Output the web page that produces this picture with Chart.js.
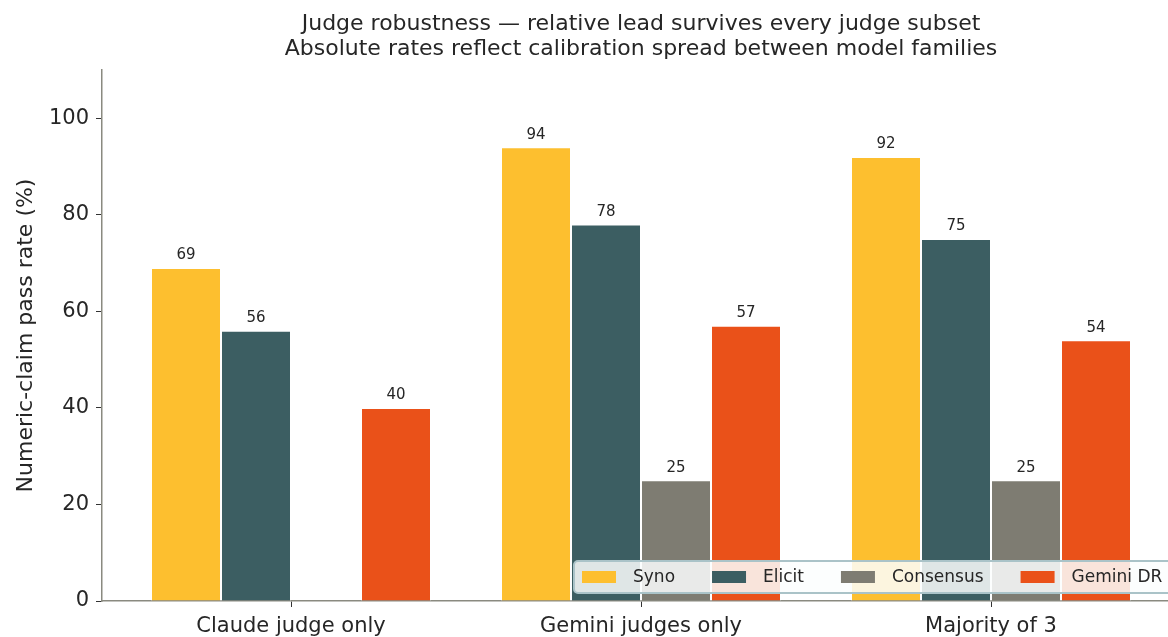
<!DOCTYPE html>
<html>
<head>
<meta charset="utf-8">
<script src="https://cdn.jsdelivr.net/npm/chart.js@4.4.1/dist/chart.umd.min.js"></script>
<style>
  html, body { margin: 0; padding: 0; background: #ffffff; overflow: hidden; width: 1168px; height: 637px; }
  canvas { display: block; }
</style>
</head>
<body>
<canvas id="c" width="1200" height="637"></canvas>
<script>
const TITLE_LINES = [
  'Judge robustness \u2014 relative lead survives every judge subset',
  'Absolute rates reflect calibration spread between model families'
];
const Y_LABEL = 'Numeric-claim pass rate (%)';
const categories = ['Claude judge only', 'Gemini judges only', 'Majority of 3'];
const seriesNames = ['Syno', 'Elicit', 'Consensus', 'Gemini DR'];
const synoValues = [69, 94, 92];
const elicitValues = [56, 78, 75];
const consensusValues = [null, 25, 25];
const geminiDrValues = [40, 57, 54];
const yTicks = [0, 20, 40, 60, 80, 100];
const colors = ['#fdbf2f', '#3c5e62', '#7e7c72', '#ea5119'];

const FONT = "'DejaVu Sans', sans-serif";
const allValues = [synoValues, elicitValues, consensusValues, geminiDrValues];

const datasets = allValues.map((vals, k) => ({
  label: seriesNames[k],
  data: vals.map((v, i) => ({ x: i, y: v })),
  backgroundColor: colors[k],
  borderColor: '#ffffff',
  borderWidth: 1,
  borderSkipped: 'bottom',
  categoryPercentage: 0.8,
  barPercentage: 1.0
}));

const titlePlugin = {
  id: 'titlePlugin',
  afterDraw(chart) {
    const ctx = chart.ctx;
    const ca = chart.chartArea;
    const cx = (ca.left + ca.right) / 2;
    ctx.save();
    ctx.fillStyle = '#262626';
    ctx.font = '22px ' + FONT;
    ctx.textAlign = 'center';
    ctx.textBaseline = 'middle';
    TITLE_LINES.forEach((t, i) => ctx.fillText(t, cx, 24 + i * 25));
    ctx.restore();
  }
};

const valueLabels = {
  id: 'valueLabels',
  afterDatasetsDraw(chart) {
    const ctx = chart.ctx;
    ctx.save();
    ctx.fillStyle = '#262626';
    ctx.font = '15px ' + FONT;
    ctx.textAlign = 'center';
    ctx.textBaseline = 'bottom';
    chart.data.datasets.forEach((ds, di) => {
      const meta = chart.getDatasetMeta(di);
      meta.data.forEach((bar, i) => {
        const v = ds.data[i].y;
        if (v === null || v === undefined) return;
        ctx.fillText(String(v), bar.x, bar.y - 5);
      });
    });
    ctx.restore();
  }
};

const legendPlugin = {
  id: 'legendPlugin',
  afterDraw(chart) {
    const ctx = chart.ctx;
    ctx.save();
    const boxX = 574, boxY = 561, boxW = 700, boxH = 32, r = 4;
    ctx.beginPath();
    ctx.moveTo(boxX + r, boxY);
    ctx.lineTo(boxX + boxW - r, boxY);
    ctx.arcTo(boxX + boxW, boxY, boxX + boxW, boxY + r, r);
    ctx.lineTo(boxX + boxW, boxY + boxH - r);
    ctx.arcTo(boxX + boxW, boxY + boxH, boxX + boxW - r, boxY + boxH, r);
    ctx.lineTo(boxX + r, boxY + boxH);
    ctx.arcTo(boxX, boxY + boxH, boxX, boxY + boxH - r, r);
    ctx.lineTo(boxX, boxY + r);
    ctx.arcTo(boxX, boxY, boxX + r, boxY, r);
    ctx.closePath();
    ctx.fillStyle = 'rgba(252,254,254,0.85)';
    ctx.fill();
    ctx.lineWidth = 2;
    ctx.strokeStyle = '#aac3c8';
    ctx.stroke();

    ctx.font = '17px ' + FONT;
    ctx.textBaseline = 'middle';
    ctx.textAlign = 'left';
    let x = 582;
    const cy = boxY + boxH / 2;
    chart.data.datasets.forEach((ds) => {
      ctx.fillStyle = ds.backgroundColor;
      ctx.fillRect(x, cy - 6, 34, 12);
      ctx.fillStyle = '#262626';
      const tx = x + 51;
      ctx.fillText(ds.label, tx, cy + 1);
      x = tx + ctx.measureText(ds.label).width + 37;
    });
    ctx.restore();
  }
};

new Chart(document.getElementById('c'), {
  type: 'bar',
  data: { datasets },
  plugins: [titlePlugin, valueLabels, legendPlugin],
  options: {
    responsive: false,
    animation: false,
    layout: { padding: { top: 70, right: 20, left: 0, bottom: 0 } },
    plugins: {
      legend: { display: false },
      title: { display: false },
      tooltip: { enabled: false }
    },
    scales: {
      x: {
        type: 'linear',
        offset: false,
        min: -0.54,
        max: 2.54,
        afterBuildTicks(scale) {
          scale.ticks = categories.map((_, i) => ({ value: i }));
        },
        afterFit(scale) { scale.height = 36; },
        ticks: {
          autoSkip: false,
          maxRotation: 0,
          padding: 7,
          color: '#262626',
          font: { family: FONT, size: 21 },
          callback: (v) => categories[v] ?? ''
        },
        grid: {
          display: true,
          offset: false,
          drawOnChartArea: false,
          drawTicks: true,
          tickLength: 6,
          tickColor: '#333333',
          lineWidth: 1
        },
        border: { display: true, color: '#8a8a80', width: 1.5 }
      },
      y: {
        type: 'linear',
        min: 0,
        max: 110,
        afterBuildTicks(scale) {
          scale.ticks = yTicks.map(v => ({ value: v }));
        },
        afterFit(scale) { scale.width = 102; },
        ticks: {
          padding: 7,
          color: '#262626',
          font: { family: FONT, size: 21 }
        },
        title: {
          display: true,
          text: Y_LABEL,
          color: '#262626',
          font: { family: FONT, size: 22 },
          padding: { top: 13, bottom: 0 }
        },
        grid: {
          display: true,
          drawOnChartArea: false,
          drawTicks: true,
          tickLength: 6,
          tickColor: '#333333',
          lineWidth: 1
        },
        border: { display: true, color: '#8a8a80', width: 1.5 }
      }
    }
  }
});
</script>
</body>
</html>
